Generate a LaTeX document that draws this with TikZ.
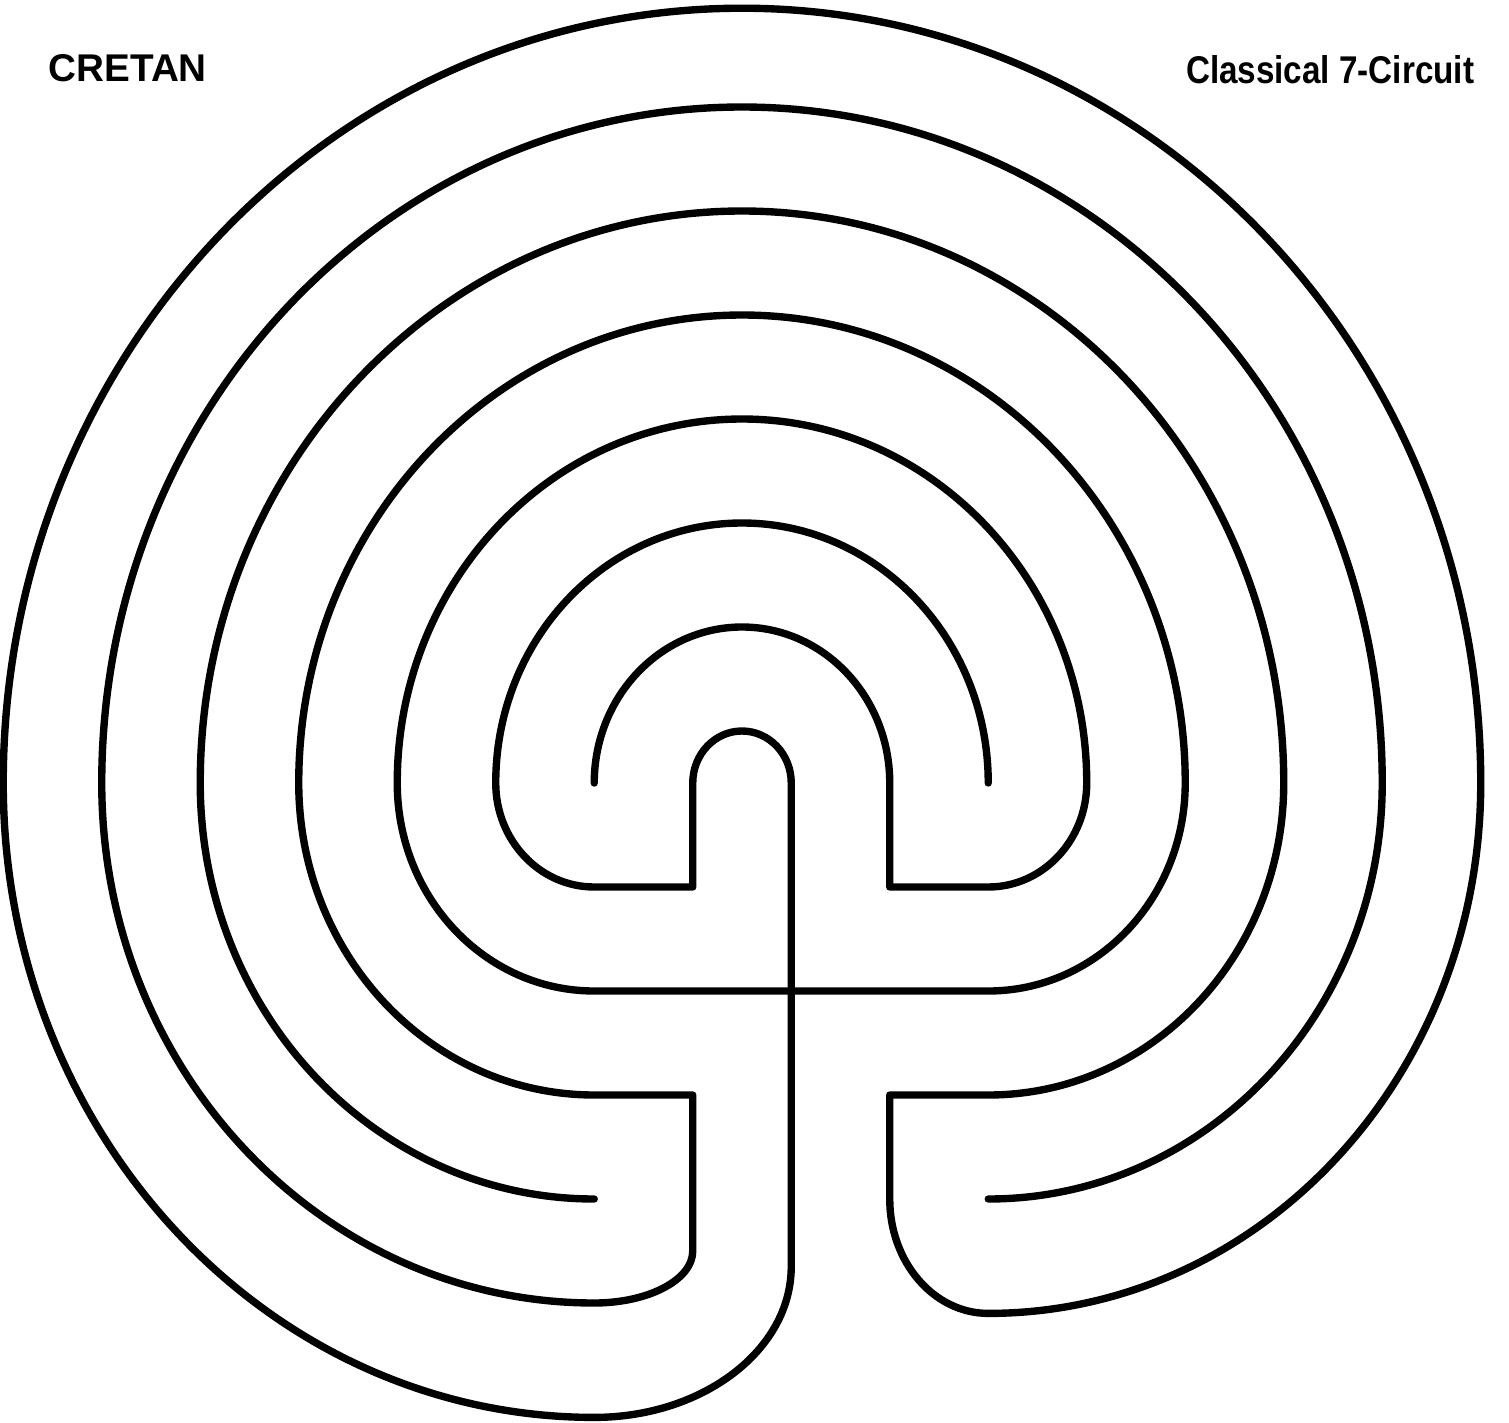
\documentclass[tikz,border=0pt]{standalone}
\usepackage{fontspec}
\setmainfont{Liberation Sans}
\usepackage{tikz}

\begin{document}
\begin{tikzpicture}[
  x=0.985cm, y=1.04cm,
  wall/.style={line width=2.1pt, line join=round, line cap=round},
  title/.style={inner sep=0pt, font=\fontsize{11}{13}\selectfont\bfseries}
]
  \useasboundingbox (-7.42cm,-6.39cm) rectangle (7.67cm,7.83cm);

  \node[title, anchor=west] (cretan) at (-6.94cm,7.15cm) {CRETAN};
  \node[title, anchor=east] (circuit) at (7.33cm,7.13cm)
    {\scalebox{0.86}[1]{Classical 7-Circuit}};

  % first wall: upper-left dot round to lower-right dot
  \draw[wall] (-1.5,0) arc[start angle=180, end angle=0, radius=1.5]
    -- (1.5,-1) -- (2.5,-1)
    arc[start angle=-90, end angle=0, radius=1]
    arc[start angle=0, end angle=180, radius=3.5]
    arc[start angle=180, end angle=270, radius=2]
    -- (2.5,-2)
    arc[start angle=-90, end angle=0, radius=2]
    arc[start angle=0, end angle=180, radius=4.5]
    arc[start angle=180, end angle=270, radius=3]
    -- (-0.5,-3) -- (-0.5,-4.5)
    arc[start angle=0, end angle=-90, x radius=1, y radius=0.5]
    arc[start angle=270, end angle=180, radius=5]
    arc[start angle=180, end angle=0, radius=6.5]
    arc[start angle=0, end angle=-90, radius=4];

  % second wall: upper-right dot round to lower-left dot
  \draw[wall] (2.5,0) arc[start angle=0, end angle=180, radius=2.5]
    arc[start angle=180, end angle=270, radius=1]
    -- (-0.5,-1) -- (-0.5,0)
    arc[start angle=180, end angle=0, radius=0.5]
    -- (0.5,-4.65)
    arc[start angle=0, end angle=-90, x radius=2, y radius=1.45]
    arc[start angle=270, end angle=180, x radius=6, y radius=6.1]
    arc[start angle=180, end angle=0, x radius=7.5, y radius=7.45]
    arc[start angle=0, end angle=-90, x radius=5, y radius=5.1]
    arc[start angle=270, end angle=180, x radius=1, y radius=1.1]
    -- (1.5,-3) -- (2.5,-3)
    arc[start angle=-90, end angle=0, radius=3]
    arc[start angle=0, end angle=180, radius=5.5]
    arc[start angle=180, end angle=270, radius=4];
\end{tikzpicture}
\end{document}
